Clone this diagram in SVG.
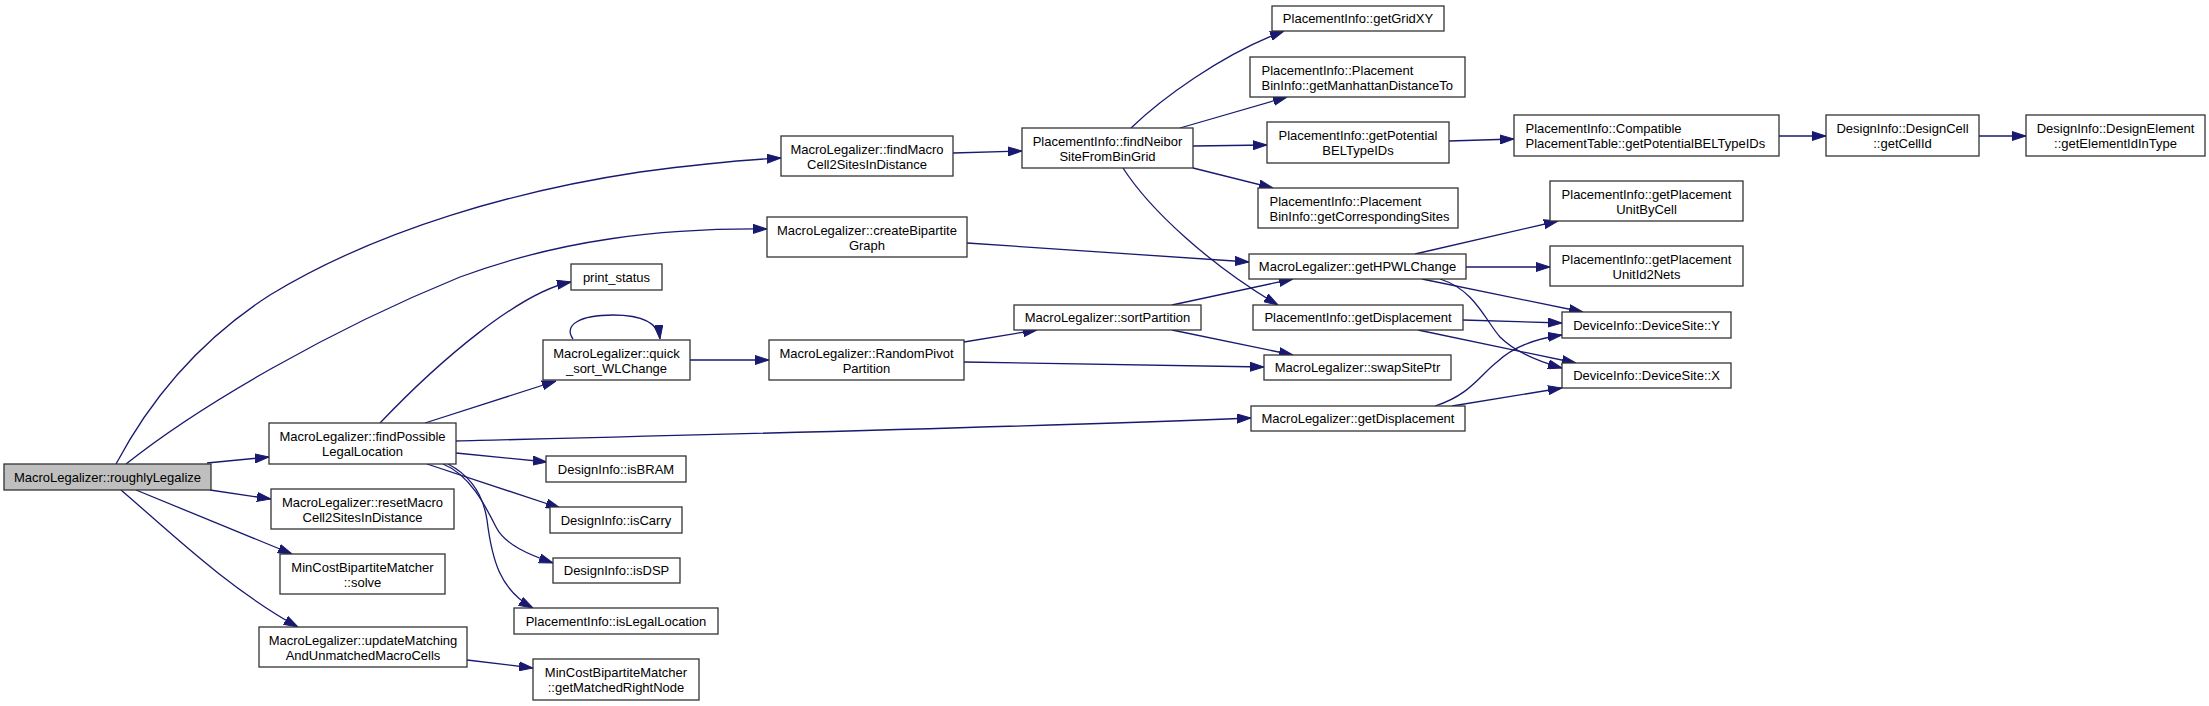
<svg xmlns="http://www.w3.org/2000/svg" width="2209" height="706" viewBox="0 0 2209 706">
<style>
.node rect{fill:#ffffff;stroke:#333333;stroke-width:1.3}
.node rect.root{fill:#bfbfbf}
.node text{font-family:"Liberation Sans",Arial,Helvetica,sans-serif;font-size:13px;fill:#000000;text-anchor:middle}
.node text.l{text-anchor:start}
.edges path{fill:none;stroke:#191970;stroke-width:1.3;marker-end:url(#arr)}
</style>
<defs>
<marker id="arr" markerUnits="userSpaceOnUse" markerWidth="14" markerHeight="10" viewBox="0 0 14 10" refX="14" refY="5" orient="auto">
<path d="M0,0.5 L14,5 L0,9.5 z" fill="#191970" stroke="#191970" stroke-width="1"/>
</marker>
</defs>
<rect width="2209" height="706" fill="#ffffff"/>
<g id="edges" class="edges">
<path d="M116,464 C150,400 200,340 270,295 C380,228 520,190 640,172 C700,164 740,160 781,158"/>
<path d="M126,464 C200,405 330,330 460,277 C560,240 660,228 767,229"/>
<path d="M207,463 L269,457"/>
<path d="M210,490 L271,499"/>
<path d="M136,490 L292,554"/>
<path d="M121,490 C170,532 230,590 298,627"/>
<path d="M380,423 C440,360 520,292 571,282"/>
<path d="M425,423 L556,381"/>
<path d="M573,339 C563,325 580,315 613,315 C640,315 658,322 660,339"/>
<path d="M456,441 C700,435 1000,428 1251,418"/>
<path d="M456,453 L547,462"/>
<path d="M427,464 L560,508"/>
<path d="M443,464 C470,475 485,505 496,527 C505,545 530,555 553,563"/>
<path d="M448,464 C475,478 484,500 487,520 C492,560 500,590 533,608"/>
<path d="M467,660 L533,668"/>
<path d="M953,153 L1022,151"/>
<path d="M967,243 L1249,262"/>
<path d="M690,360 L769,360"/>
<path d="M964,342 L1037,330"/>
<path d="M964,362 L1264,367"/>
<path d="M1172,305 L1293,279"/>
<path d="M1172,330 L1293,355"/>
<path d="M1131,128 C1160,100 1220,55 1284,31"/>
<path d="M1180,128 L1287,97"/>
<path d="M1193,146 L1267,145"/>
<path d="M1193,168 L1273,188"/>
<path d="M1123,168 C1150,210 1210,265 1278,305"/>
<path d="M1449,141 L1514,139"/>
<path d="M1779,136 L1826,136"/>
<path d="M1979,136 L2026,136"/>
<path d="M1415,254 L1558,221"/>
<path d="M1466,267 L1550,267"/>
<path d="M1422,279 L1583,312"/>
<path d="M1440,279 C1475,290 1485,320 1500,337 C1515,352 1540,362 1562,368"/>
<path d="M1463,320 L1562,323"/>
<path d="M1418,330 L1576,363"/>
<path d="M1435,406 C1470,395 1480,375 1497,362 C1515,345 1540,338 1562,335"/>
<path d="M1452,406 L1562,388"/>
</g>
<g id="n_roughlyLegalize" class="node"><rect class="root" x="4" y="464" width="207" height="26"/><text x="107.5" y="481.5">MacroLegalizer::roughlyLegalize</text></g>
<g id="n_findMacroCell2Sites" class="node"><rect x="781" y="136" width="172" height="40"/><text x="867" y="153.5">MacroLegalizer::findMacro</text><text x="867" y="168.5">Cell2SitesInDistance</text></g>
<g id="n_createBipartiteGraph" class="node"><rect x="767" y="217" width="200" height="40"/><text x="867" y="234.5">MacroLegalizer::createBipartite</text><text x="867" y="249.5">Graph</text></g>
<g id="n_findPossibleLegalLocation" class="node"><rect x="269" y="423" width="187" height="41"/><text x="362.5" y="440.5">MacroLegalizer::findPossible</text><text x="362.5" y="455.5">LegalLocation</text></g>
<g id="n_resetMacroCell2Sites" class="node"><rect x="271" y="489" width="183" height="40"/><text x="362.5" y="506.5">MacroLegalizer::resetMacro</text><text x="362.5" y="521.5">Cell2SitesInDistance</text></g>
<g id="n_solve" class="node"><rect x="280" y="554" width="165" height="40"/><text x="362.5" y="571.5">MinCostBipartiteMatcher</text><text x="362.5" y="586.5">::solve</text></g>
<g id="n_updateMatching" class="node"><rect x="259" y="627" width="208" height="40"/><text x="363" y="644.5">MacroLegalizer::updateMatching</text><text x="363" y="659.5">AndUnmatchedMacroCells</text></g>
<g id="n_findNeiborSite" class="node"><rect x="1022" y="128" width="171" height="40"/><text x="1107.5" y="145.5">PlacementInfo::findNeibor</text><text x="1107.5" y="160.5">SiteFromBinGrid</text></g>
<g id="n_getHPWLChange" class="node"><rect x="1249" y="254" width="217" height="25"/><text x="1357.5" y="271">MacroLegalizer::getHPWLChange</text></g>
<g id="n_print_status" class="node"><rect x="571" y="264" width="91" height="26"/><text x="616.5" y="281.5">print_status</text></g>
<g id="n_quick_sort" class="node"><rect x="543" y="340" width="147" height="40"/><text x="616.5" y="357.5">MacroLegalizer::quick</text><text x="616.5" y="372.5">_sort_WLChange</text></g>
<g id="n_RandomPivotPartition" class="node"><rect x="769" y="340" width="195" height="40"/><text x="866.5" y="357.5">MacroLegalizer::RandomPivot</text><text x="866.5" y="372.5">Partition</text></g>
<g id="n_sortPartition" class="node"><rect x="1014" y="305" width="187" height="25"/><text x="1107.5" y="322">MacroLegalizer::sortPartition</text></g>
<g id="n_swapSitePtr" class="node"><rect x="1264" y="355" width="187" height="25"/><text x="1357.5" y="372">MacroLegalizer::swapSitePtr</text></g>
<g id="n_ML_getDisplacement" class="node"><rect x="1251" y="406" width="214" height="25"/><text x="1358" y="423">MacroLegalizer::getDisplacement</text></g>
<g id="n_isBRAM" class="node"><rect x="546" y="456" width="140" height="26"/><text x="616" y="473.5">DesignInfo::isBRAM</text></g>
<g id="n_isCarry" class="node"><rect x="550" y="507" width="132" height="26"/><text x="616" y="524.5">DesignInfo::isCarry</text></g>
<g id="n_isDSP" class="node"><rect x="553" y="558" width="127" height="25"/><text x="616.5" y="575">DesignInfo::isDSP</text></g>
<g id="n_isLegalLocation" class="node"><rect x="514" y="608" width="204" height="26"/><text x="616" y="625.5">PlacementInfo::isLegalLocation</text></g>
<g id="n_getMatchedRightNode" class="node"><rect x="533" y="659" width="166" height="41"/><text x="616" y="676.5">MinCostBipartiteMatcher</text><text x="616" y="691.5">::getMatchedRightNode</text></g>
<g id="n_getGridXY" class="node"><rect x="1272" y="6" width="172" height="25"/><text x="1358" y="23">PlacementInfo::getGridXY</text></g>
<g id="n_getManhattanDistanceTo" class="node"><rect x="1250" y="57" width="215" height="40"/><text class="l" x="1261.5" y="74.5">PlacementInfo::Placement</text><text class="l" x="1261.5" y="89.5">BinInfo::getManhattanDistanceTo</text></g>
<g id="n_getPotentialBELTypeIDs" class="node"><rect x="1267" y="122" width="182" height="41"/><text x="1358" y="139.5">PlacementInfo::getPotential</text><text x="1358" y="154.5">BELTypeIDs</text></g>
<g id="n_getCorrespondingSites" class="node"><rect x="1258" y="188" width="200" height="40"/><text class="l" x="1269.5" y="205.5">PlacementInfo::Placement</text><text class="l" x="1269.5" y="220.5">BinInfo::getCorrespondingSites</text></g>
<g id="n_PI_getDisplacement" class="node"><rect x="1253" y="305" width="210" height="25"/><text x="1358" y="322">PlacementInfo::getDisplacement</text></g>
<g id="n_CompatiblePlacementTable" class="node"><rect x="1514" y="115" width="265" height="41"/><text class="l" x="1525.5" y="132.5">PlacementInfo::Compatible</text><text class="l" x="1525.5" y="147.5">PlacementTable::getPotentialBELTypeIDs</text></g>
<g id="n_getPlacementUnitByCell" class="node"><rect x="1550" y="181" width="193" height="40"/><text x="1646.5" y="198.5">PlacementInfo::getPlacement</text><text x="1646.5" y="213.5">UnitByCell</text></g>
<g id="n_getPlacementUnitId2Nets" class="node"><rect x="1550" y="246" width="193" height="40"/><text x="1646.5" y="263.5">PlacementInfo::getPlacement</text><text x="1646.5" y="278.5">UnitId2Nets</text></g>
<g id="n_DeviceSite_Y" class="node"><rect x="1562" y="312" width="169" height="26"/><text x="1646.5" y="329.5">DeviceInfo::DeviceSite::Y</text></g>
<g id="n_DeviceSite_X" class="node"><rect x="1562" y="363" width="169" height="25"/><text x="1646.5" y="380">DeviceInfo::DeviceSite::X</text></g>
<g id="n_getCellId" class="node"><rect x="1826" y="115" width="153" height="41"/><text x="1902.5" y="132.5">DesignInfo::DesignCell</text><text x="1902.5" y="147.5">::getCellId</text></g>
<g id="n_getElementIdInType" class="node"><rect x="2026" y="115" width="179" height="41"/><text x="2115.5" y="132.5">DesignInfo::DesignElement</text><text x="2115.5" y="147.5">::getElementIdInType</text></g>
</svg>
